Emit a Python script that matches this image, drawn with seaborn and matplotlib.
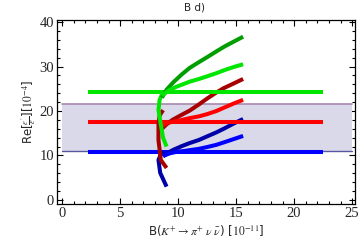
import pandas as pd
import matplotlib
matplotlib.use("Agg")
import matplotlib.pyplot as plt
import seaborn as sns
from matplotlib.ticker import MultipleLocator

# horizontal reference lines (x range, y level)
flat_x = [2.2, 22.5]
flat_green = [24.3, 24.3]
flat_red = [17.5, 17.5]
flat_blue = [10.7, 10.7]

# spines near B ~ 8.5
green_spine_x = [9.0, 8.7, 8.5, 8.3, 8.4, 8.7]
green_spine_y = [12.0, 14.0, 17.0, 20.2, 22.5, 24.3]
red_spine_x = [9.0, 8.5, 8.3, 8.3, 8.4, 8.7]
red_spine_y = [7.2, 9.0, 13.5, 17.0, 19.0, 20.2]
blue_spine_x = [9.0, 8.45, 8.3, 8.5, 8.8]
blue_spine_y = [3.0, 6.1, 9.0, 10.2, 10.7]

# fans
dgreen_x = [8.6, 9.0, 9.6, 10.3, 11.0, 11.8, 12.5, 13.3, 14.0, 14.8, 15.6]
dgreen_y = [23.0, 24.8, 26.5, 28.2, 29.7, 31.0, 32.1, 33.4, 34.5, 35.6, 36.7]
lgreen_x = [8.6, 9.2, 9.8, 10.4, 11.0, 11.8, 12.5, 13.3, 14.0, 14.8, 15.6]
lgreen_y = [23.5, 24.6, 25.4, 26.0, 26.6, 27.2, 27.8, 28.5, 29.2, 29.9, 30.5]
dred_x = [8.6, 9.0, 9.5, 10.2, 11.0, 11.8, 12.5, 13.2, 13.9, 14.8, 15.6]
dred_y = [16.0, 17.0, 18.0, 19.0, 20.1, 21.5, 22.8, 24.0, 25.1, 26.2, 27.2]
red_x = [8.6, 9.2, 10.0, 10.5, 11.0, 11.8, 12.5, 13.3, 14.0, 14.8, 15.6]
red_y = [16.8, 17.4, 17.8, 18.1, 18.4, 18.8, 19.3, 20.0, 20.8, 21.7, 22.5]
dblue_x = [8.7, 9.1, 9.6, 10.3, 11.0, 11.8, 12.5, 13.3, 14.0, 14.8, 15.6]
dblue_y = [9.8, 10.6, 11.3, 12.1, 12.8, 13.5, 14.3, 15.2, 16.1, 17.2, 18.2]
blue_x = [8.7, 9.3, 10.0, 10.5, 11.0, 11.8, 12.5, 13.3, 14.0, 14.8, 15.6]
blue_y = [9.9, 10.5, 10.9, 11.0, 11.2, 11.5, 11.9, 12.4, 13.0, 13.7, 14.4]

# experimental band
band_x = [0, 25]
band_lo = 10.9
band_hi = 21.5

LG, DG = "#00E600", "#009E00"
R, DR = "#FF0000", "#A80000"
B, DB = "#0000FF", "#0000A8"

sns.set_style("ticks")
plt.rcParams['font.family'] = ['Liberation Serif', 'DejaVu Serif']
plt.rcParams['mathtext.fontset'] = 'stix'

fig = plt.figure(figsize=(3.6, 2.48), dpi=100)
ax = fig.add_axes([57/360, 1-204/248, 298/360, 184/248])

ax.fill_between(band_x, band_lo, band_hi, color="#D9D9EA", lw=0, zorder=1)
ax.plot(band_x, [band_hi, band_hi], color="#A888B0", lw=1.2, zorder=1)
ax.plot(band_x, [band_lo, band_lo], color="#5858A0", lw=1.0, zorder=1)

def curve(xs, ys, c, lw=2.9):
    d = pd.DataFrame({"x": xs, "y": ys})
    sns.lineplot(data=d, x="x", y="y", sort=False, color=c, lw=lw, ax=ax,
                 estimator=None, zorder=3, solid_capstyle="butt")

# blue group
curve(flat_x, flat_blue, B)
curve(blue_spine_x, blue_spine_y, DB)
curve(dblue_x, dblue_y, DB)
curve(blue_x, blue_y, B)
# red group
curve(flat_x, flat_red, R)
curve(red_spine_x, red_spine_y, DR)
curve(dred_x, dred_y, DR)
curve(red_x, red_y, R)
# green group
curve(flat_x, flat_green, LG)
curve(green_spine_x, green_spine_y, LG)
curve(dgreen_x, dgreen_y, DG)
curve(lgreen_x, lgreen_y, LG)

ax.set_xlim(-0.45, 25.25)
ax.set_ylim(-0.9, 40.45)
ax.xaxis.set_major_locator(MultipleLocator(5))
ax.xaxis.set_minor_locator(MultipleLocator(1))
ax.yaxis.set_major_locator(MultipleLocator(10))
ax.yaxis.set_minor_locator(MultipleLocator(2))
ax.tick_params(which="both", direction="in", top=True, right=True,
               labeltop=False, labelright=False, width=0.8, color="black")
ax.tick_params(which="major", length=4, labelsize=10.5, pad=2)
ax.tick_params(which="minor", length=2)
for s in ax.spines.values():
    s.set_linewidth(0.9)
    s.set_color("black")

ax.set_xlabel(r"B($K^{+}\rightarrow\pi^{+}\ \nu\ \bar{\nu}$) [$10^{-11}$]",
              fontsize=8.5, family="DejaVu Sans", labelpad=3)
ax.set_ylabel(r"Re[$\frac{\epsilon'}{\epsilon}$][$10^{-4}$]",
              fontsize=8.5, family="DejaVu Sans", labelpad=1)
fig.text(195/360, 1-8/248, "B d)", ha="center", va="center",
         fontsize=7.5, family="DejaVu Sans")

fig.savefig("out.png", dpi=100)
